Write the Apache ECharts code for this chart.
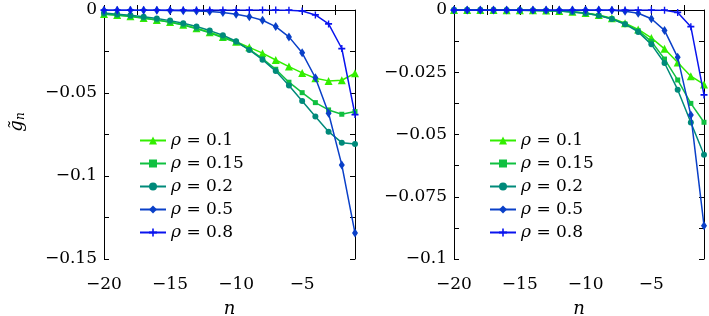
<!DOCTYPE html>
<html><head><meta charset="utf-8">
<script src="https://cdn.jsdelivr.net/npm/echarts@6/dist/echarts.min.js"></script>
<style>html,body{margin:0;padding:0;background:#fff}#c{width:709px;height:316px}</style>
</head><body><div id="c"></div>
<script>
const nVals = [-20,-19,-18,-17,-16,-15,-14,-13,-12,-11,-10,-9,-8,-7,-6,-5,-4,-3,-2,-1];
const seriesNames = ['ρ = 0.1','ρ = 0.15','ρ = 0.2','ρ = 0.5','ρ = 0.8'];
// left panel
const L_r01 = [-0.0024,-0.0030,-0.0038,-0.0048,-0.0060,-0.0072,-0.0089,-0.0110,-0.0134,-0.0163,-0.0191,-0.0225,-0.0260,-0.0301,-0.0341,-0.0379,-0.0411,-0.0427,-0.0423,-0.0381];
const L_r015 = [-0.0025,-0.0031,-0.0039,-0.0049,-0.0061,-0.0074,-0.0091,-0.0113,-0.0138,-0.0168,-0.0195,-0.0237,-0.0293,-0.0357,-0.0435,-0.0498,-0.0558,-0.0602,-0.0628,-0.0612];
const L_r02 = [-0.0018,-0.0025,-0.0031,-0.0041,-0.0051,-0.0064,-0.0080,-0.0099,-0.0124,-0.0152,-0.0188,-0.0241,-0.0299,-0.0368,-0.0455,-0.0548,-0.0642,-0.0733,-0.0799,-0.0807];
const L_r05 = [-0.0001,-0.0001,-0.0001,-0.0002,-0.0002,-0.0003,-0.0004,-0.0006,-0.0009,-0.0015,-0.0025,-0.0040,-0.0062,-0.0100,-0.0162,-0.0258,-0.0408,-0.0622,-0.0933,-0.1344];
const L_r08 = [0,0,0,0,0,0,0,0,0,0,0,0,0,0,-0.0001,-0.0006,-0.0030,-0.0084,-0.0232,-0.0630];
// right panel
const R_r01 = [-0.00002,-0.00003,-0.00004,-0.00005,-0.00007,-0.0001,-0.00015,-0.00025,-0.0004,-0.0007,-0.0012,-0.0020,-0.0033,-0.0053,-0.0078,-0.0112,-0.0156,-0.0211,-0.0266,-0.0299];
const R_r015 = [-0.00002,-0.00003,-0.00004,-0.00005,-0.00007,-0.0001,-0.00016,-0.00027,-0.00045,-0.0008,-0.0013,-0.0022,-0.0035,-0.0056,-0.0083,-0.0126,-0.0197,-0.0281,-0.0375,-0.0451];
const R_r02 = [-0.00001,-0.00002,-0.00003,-0.00004,-0.00006,-0.0001,-0.00016,-0.00027,-0.00045,-0.0008,-0.0013,-0.0022,-0.0036,-0.0057,-0.0088,-0.0138,-0.0213,-0.0320,-0.0452,-0.0581];
const R_r05 = [0,0,0,0,0,0,0,0,0,0,0,0,-0.0001,-0.0005,-0.0013,-0.0035,-0.0082,-0.0190,-0.0422,-0.0866];
const R_r08 = [0,0,0,0,0,0,0,0,0,0,0,0,0,0,0,0,-0.0001,-0.0010,-0.0067,-0.0341];
const xTicks = [-20,-15,-10,-5];
const leftYTicks = [0,-0.05,-0.1,-0.15];
const rightYTicks = [0,-0.025,-0.05,-0.075,-0.1];

const colors = ['#33ee00','#10c040','#008a7a','#0a40c8','#0a14ee'];
const symbols = ['triangle','rect','circle','diamond','path://M4,0H6V3H10V5H6V8H4V5H0V3H4Z'];
const symSizes = [8,5,6,[6,9],[7,7]];

const FONT = 'DejaVu Serif';
const FS = 17;

function fmtNum(v, list){
  for (const t of list){ if (Math.abs(v - t) < 1e-9) return t === 0 ? '0' : '\u2212' + String(Math.abs(t)); }
  return '';
}

function axesFor(gi, ymin, yint, yTicks){
  const common = {axisLine:{show:true,lineStyle:{color:'#000',width:1}}, axisTick:{inside:true,length:5,lineStyle:{color:'#000'}}, splitLine:{show:false}};
  const x = [
    Object.assign({type:'value', gridIndex:gi, min:-20, max:-1, interval:2.5, position:'bottom',
      axisLabel:{color:'#000', fontFamily:FONT, fontSize:FS, margin:17, formatter:v=>fmtNum(v,xTicks), showMaxLabel:false},
      name:'n', nameLocation:'middle', nameGap:41, nameTextStyle:{fontFamily:FONT, fontSize:FS+1, fontStyle:'italic', color:'#000'}}, common),
    Object.assign({type:'value', gridIndex:gi, min:-20, max:-1, interval:2.5, position:'top', axisLabel:{show:false}}, common)
  ];
  const y = [
    Object.assign({type:'value', gridIndex:gi, min:ymin, max:0, interval:yint, position:'left',
      axisLabel:{color:'#000', fontFamily:FONT, fontSize:FS, margin:7, formatter:v=>fmtNum(v,yTicks)}}, common),
    Object.assign({type:'value', gridIndex:gi, min:ymin, max:0, interval:yint, position:'right', axisLabel:{show:false}}, common)
  ];
  return {x, y};
}
const a0 = axesFor(0, -0.15, 0.025, leftYTicks);
const a1 = axesFor(1, -0.1, 0.0125, rightYTicks);

const leftData = [L_r01,L_r015,L_r02,L_r05,L_r08];
const rightData = [R_r01,R_r015,R_r02,R_r05,R_r08];
const series = [];
[leftData, rightData].forEach((arrs, gi) => {
  arrs.forEach((arr, k) => {
    series.push({
      type:'line', name:seriesNames[k], xAxisIndex: gi*2, yAxisIndex: gi*2,
      data: nVals.map((n,i)=>[n, arr[i]]),
      symbol: symbols[k], symbolSize: symSizes[k], showSymbol:true,
      lineStyle:{color:colors[k], width:1.5}, itemStyle:{color:colors[k]},
      animation:false, z: 2+k
    });
  });
});

function legendAt(left){
  return {orient:'vertical', left:left, top:127, itemWidth:26, itemHeight:10, itemGap:6,
    data: seriesNames, selectedMode:false,
    textStyle:{fontFamily:FONT, fontSize:FS, color:'#000', rich:{i:{fontFamily:FONT,fontSize:FS,fontStyle:'italic',color:'#000'}}},
    formatter: nm => nm.replace('ρ','{i|ρ}')};
}

const chart = echarts.init(document.getElementById('c'), null, {renderer:'canvas'});
chart.setOption({
  animation:false,
  backgroundColor:'#fff',
  grid:[{left:104, top:10, width:251, height:249, containLabel:false, outerBoundsMode:'none'},
        {left:454, top:10, width:250, height:249, containLabel:false, outerBoundsMode:'none'}],
  xAxis: a0.x.concat(a1.x),
  yAxis: a0.y.concat(a1.y),
  legend:[legendAt(134), legendAt(484)],
  graphic:[{type:'text', x:17, y:122, rotation:Math.PI/2,
    style:{text:'{g|g\u0303}{s|n}', align:'center', verticalAlign:'middle',
      rich:{g:{fontFamily:FONT,fontSize:FS+1,fontStyle:'italic',fill:'#000'}, s:{fontFamily:FONT,fontSize:12,fontStyle:'italic',fill:'#000',padding:[8,0,0,0]}}}}],
  series: series
});
</script></body></html>
